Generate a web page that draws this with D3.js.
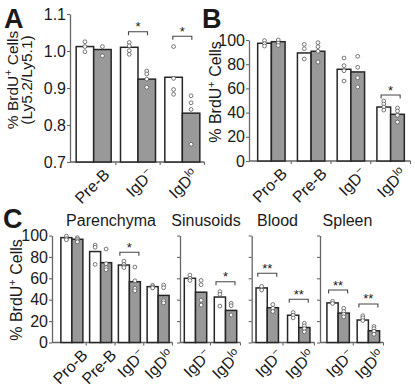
<!DOCTYPE html>
<html>
<head>
<meta charset="utf-8">
<script src="https://cdn.jsdelivr.net/npm/d3@7"></script>
<style>
  html, body { margin: 0; padding: 0; background: #fff; }
  svg { display: block; }
  text { font-family: "Liberation Sans", Arial, Helvetica, sans-serif; fill: #1a1a1a; }
</style>
</head>
<body>
<div id="chart"></div>
<script>
// ---------- data ----------
// tick labels: [base text, superscript]
const labelsA = [["Pre-B", ""], ["IgD", "−"], ["IgD", "lo"]];
const whiteA = [1.012, 1.010, 0.929];
const grayA = [1.004, 0.924, 0.832];
const whiteDotsA = [[1.025, 1.012, 0.998], [1.023, 1.014, 1.001, 0.991], [1.012, 0.926, 0.896, 0.883]];
const grayDotsA = [[1.012, 0.987], [0.946, 0.938, 0.924, 0.902], [0.879, 0.860, 0.842, 0.748]];
const sigA = ["", "*", "*"];
const sigLevelA = [null, 1.052, 1.040];
const ticksA = [0.7, 0.8, 0.9, 1.0, 1.1];

const labelsB = [["Pro-B", ""], ["Pre-B", ""], ["IgD", "−"], ["IgD", "lo"]];
const whiteB = [97.3, 89.3, 75.8, 44.6];
const grayB = [98.6, 90.7, 73.6, 38.6];
const whiteDotsB = [[99.5, 97, 95], [96.4, 92.8, 84.3], [85.1, 78.8, 74.6, 66.1], [49.6, 47.1, 44.6, 42.1]];
const grayDotsB = [[100, 97.5, 95.5], [97.8, 94.5, 90.7, 81.8], [86.5, 77.4, 68.8, 61.2], [43.8, 41.3, 37.8, 32.2]];
const sigB = ["", "", "", "*"];
const sigLevelB = [null, null, null, 54.5];
const ticksPct = [0, 20, 40, 60, 80, 100];

const labelsParenchyma = [["Pro-B", ""], ["Pre-B", ""], ["IgD", "−"], ["IgD", "lo"]];
const whiteParenchyma = [98, 85, 72.4, 52.2];
const grayParenchyma = [96.5, 74.6, 56.8, 44];
const whiteDotsParenchyma = [[99.5, 97, 96], [91, 89, 73], [76, 73, 71, 70], [53.5, 52, 51]];
const grayDotsParenchyma = [[98, 96.5, 95, 94], [87.4, 73.6, 70, 68], [70.5, 57.7, 50.6, 48.4], [53.7, 51.2, 39, 37]];
const sigParenchyma = ["", "", "*", ""];
const sigLevelParenchyma = [null, null, 84.3, null];

const labelsTissue = [["IgD", "−"], ["IgD", "lo"]];
const whiteSinusoids = [60, 42.5];
const graySinusoids = [47, 30];
const whiteDotsSinusoids = [[63, 60, 58], [47.5, 45, 34]];
const grayDotsSinusoids = [[58, 54, 39.5, 35], [36.6, 34.4, 25.7]];
const sigSinusoids = ["", "*"];
const sigLevelSinusoids = [null, 56.8];

const whiteBlood = [51, 25.5];
const grayBlood = [32.5, 14];
const whiteDotsBlood = [[52.5, 49], [28, 25.5, 23]];
const grayDotsBlood = [[35.5, 32, 29], [18, 15.5, 13, 10]];
const sigBlood = ["**", "**"];
const sigLevelBlood = [64.7, 40.4];

const whiteSpleen = [37, 21];
const graySpleen = [27.5, 11];
const whiteDotsSpleen = [[38.5, 36.5], [25, 23, 20.5]];
const grayDotsSpleen = [[32, 29, 26.5, 24], [15, 13, 10.5, 7.7]];
const sigSpleen = ["**", "**"];
const sigLevelSpleen = [49, 36];

// ---------- drawing ----------
const W = 415, H = 388;
const svg = d3.select("#chart").append("svg").attr("width", W).attr("height", H);

const GRAY_FILL = "#999";
const BAR_STROKE = "#262626";
const AXIS_COLOR = "#666";

function addLabel(sel, parts) {
  sel.append("tspan").text(parts[0]);
  if (parts[1]) {
    sel.append("tspan").attr("baseline-shift", "super").attr("font-size", "68%").text(parts[1]);
  }
}

function drawPanel(p) {
  const g = svg.append("g");
  const y = d3.scaleLinear().domain(p.yDomain).range([p.yBottom, p.yTop]);
  const x = d3.scaleBand().domain(d3.range(p.labels.length)).range([p.x0, p.x1]);
  const sub = d3.scaleBand().domain(["white", "gray"]).range([-p.barW, p.barW]);

  // y axis
  const yAxis = d3.axisLeft(y).tickValues(p.ticks).tickSize(3).tickSizeOuter(0)
    .tickFormat(p.showTickLabels ? p.tickFormat : () => "");
  const ya = g.append("g").attr("transform", `translate(${p.axisX},0)`).call(yAxis);
  ya.select(".domain").attr("stroke", AXIS_COLOR).attr("stroke-width", 1.3);
  ya.selectAll(".tick line").attr("stroke", AXIS_COLOR).attr("stroke-width", 1.1);
  ya.selectAll(".tick text").attr("font-size", 16).attr("x", -4)
    .attr("font-family", null).attr("fill", "#1a1a1a");

  // x axis line with boundary ticks
  g.append("line").attr("x1", p.axisX).attr("x2", p.x1)
    .attr("y1", p.yBottom).attr("y2", p.yBottom)
    .attr("stroke", AXIS_COLOR).attr("stroke-width", 1.3);
  g.selectAll("line.xt").data(d3.range(p.labels.length)).join("line").attr("class", "xt")
    .attr("x1", i => x(i) + x.bandwidth()).attr("x2", i => x(i) + x.bandwidth())
    .attr("y1", p.yBottom).attr("y2", p.yBottom + 3)
    .attr("stroke", AXIS_COLOR).attr("stroke-width", 1.1);

  // bars
  const rows = [];
  p.labels.forEach((_, i) => {
    rows.push({ i, k: "white", v: p.white[i], dots: p.whiteDots[i] });
    rows.push({ i, k: "gray", v: p.gray[i], dots: p.grayDots[i] });
  });
  const cx = d => x(d.i) + x.bandwidth() / 2 + sub(d.k);
  g.selectAll("rect.bar").data(rows).join("rect").attr("class", "bar")
    .attr("x", cx).attr("width", sub.bandwidth())
    .attr("y", d => y(d.v)).attr("height", d => p.yBottom - y(d.v))
    .attr("fill", d => d.k === "white" ? "#fff" : GRAY_FILL)
    .attr("stroke", BAR_STROKE).attr("stroke-width", 1.5);

  // dots
  rows.forEach(r => {
    g.selectAll(null).data(r.dots).join("circle")
      .attr("cx", cx(r) + sub.bandwidth() / 2).attr("cy", v => y(v)).attr("r", 1.9)
      .attr("fill", "#fff").attr("stroke", "#555").attr("stroke-width", 0.8);
  });

  // significance brackets
  p.sig.forEach((s, i) => {
    if (!s) return;
    const c = x(i) + x.bandwidth() / 2;
    const by = y(p.sigLevel[i]);
    g.append("path")
      .attr("d", `M${c - 9.5},${by + 3.5}V${by}H${c + 9.5}V${by + 3.5}`)
      .attr("fill", "none").attr("stroke", "#444").attr("stroke-width", 1.1);
    g.append("text").attr("x", c).attr("y", by - 0.5)
      .attr("text-anchor", "middle").attr("font-size", 13).attr("fill", "#333").text(s);
  });

  // x labels
  p.labels.forEach((lab, i) => {
    const t = g.append("text")
      .attr("transform", `translate(${x(i) + x.bandwidth() / 2 + 10},${p.yBottom + 7}) rotate(-45)`)
      .attr("text-anchor", "end").attr("dy", "0.6em").attr("font-size", 16);
    addLabel(t, lab);
  });

  if (p.title) {
    g.append("text").attr("x", p.titleX).attr("y", p.titleY)
      .attr("text-anchor", "middle").attr("font-size", 16).text(p.title);
  }
  return y;
}

const fmt1 = d3.format(".1f");
const fmt0 = d3.format("d");

// Panel A
drawPanel({
  labels: labelsA, white: whiteA, gray: grayA, whiteDots: whiteDotsA, grayDots: grayDotsA,
  sig: sigA, sigLevel: sigLevelA, ticks: ticksA, tickFormat: fmt1, showTickLabels: true,
  yDomain: [0.7, 1.1], yBottom: 162, yTop: 14, axisX: 70, x0: 71.5, x1: 204.5, barW: 17.5
});
// Panel B
drawPanel({
  labels: labelsB, white: whiteB, gray: grayB, whiteDots: whiteDotsB, grayDots: grayDotsB,
  sig: sigB, sigLevel: sigLevelB, ticks: ticksPct, tickFormat: fmt0, showTickLabels: true,
  yDomain: [0, 100], yBottom: 161, yTop: 40, axisX: 249, x0: 251.5, x1: 410.5, barW: 13.7
});
// Panel C
const cY = { yDomain: [0, 100], yBottom: 342.5, yTop: 235.5, ticks: ticksPct, tickFormat: fmt0, titleY: 226 };
drawPanel(Object.assign({}, cY, {
  labels: labelsParenchyma, white: whiteParenchyma, gray: grayParenchyma,
  whiteDots: whiteDotsParenchyma, grayDots: grayDotsParenchyma,
  sig: sigParenchyma, sigLevel: sigLevelParenchyma, showTickLabels: true,
  axisX: 52, x0: 57.5, x1: 172.5, barW: 11, title: "Parenchyma", titleX: 111
}));
drawPanel(Object.assign({}, cY, {
  labels: labelsTissue, white: whiteSinusoids, gray: graySinusoids,
  whiteDots: whiteDotsSinusoids, grayDots: grayDotsSinusoids,
  sig: sigSinusoids, sigLevel: sigLevelSinusoids, showTickLabels: false,
  axisX: 180, x0: 180.5, x1: 240.5, barW: 11.2, title: "Sinusoids", titleX: 206
}));
drawPanel(Object.assign({}, cY, {
  labels: labelsTissue, white: whiteBlood, gray: grayBlood,
  whiteDots: whiteDotsBlood, grayDots: grayDotsBlood,
  sig: sigBlood, sigLevel: sigLevelBlood, showTickLabels: false,
  axisX: 251.7, x0: 251.5, x1: 314.5, barW: 11.2, title: "Blood", titleX: 277.5
}));
drawPanel(Object.assign({}, cY, {
  labels: labelsTissue, white: whiteSpleen, gray: graySpleen,
  whiteDots: whiteDotsSpleen, grayDots: grayDotsSpleen,
  sig: sigSpleen, sigLevel: sigLevelSpleen, showTickLabels: false,
  axisX: 320, x0: 323, x1: 383.5, barW: 11.2, title: "Spleen", titleX: 347.5
}));

// panel letters
[["A", 4, 28], ["B", 202, 28], ["C", 3, 228]].forEach(([s, lx, ly]) => {
  svg.append("text").attr("x", lx).attr("y", ly).attr("font-size", 27)
    .attr("font-weight", "bold").attr("fill", "#111").text(s);
});

// y axis titles
function yTitle(cxp, cyp, size, gap, lines) {
  const t = svg.append("text").attr("transform", `translate(${cxp},${cyp}) rotate(-90)`)
    .attr("text-anchor", "middle").attr("font-size", size);
  lines.forEach((ln, i) => {
    const row = t.append("tspan").attr("x", 0).attr("y", i * gap);
    ln.forEach(([s, sup]) => {
      if (sup) row.append("tspan").attr("baseline-shift", "super").attr("font-size", "68%").text(s);
      else row.append("tspan").text(s);
    });
  });
}
const brdu = [["% BrdU", false], ["+", true], [" Cells", false]];
yTitle(18, 80, 15.5, 14, [brdu, [["(Ly5.2/Ly5.1)", false]]]);
yTitle(221, 92, 16, 0, [brdu]);
yTitle(22, 290, 16, 0, [brdu]);
</script>
</body>
</html>
